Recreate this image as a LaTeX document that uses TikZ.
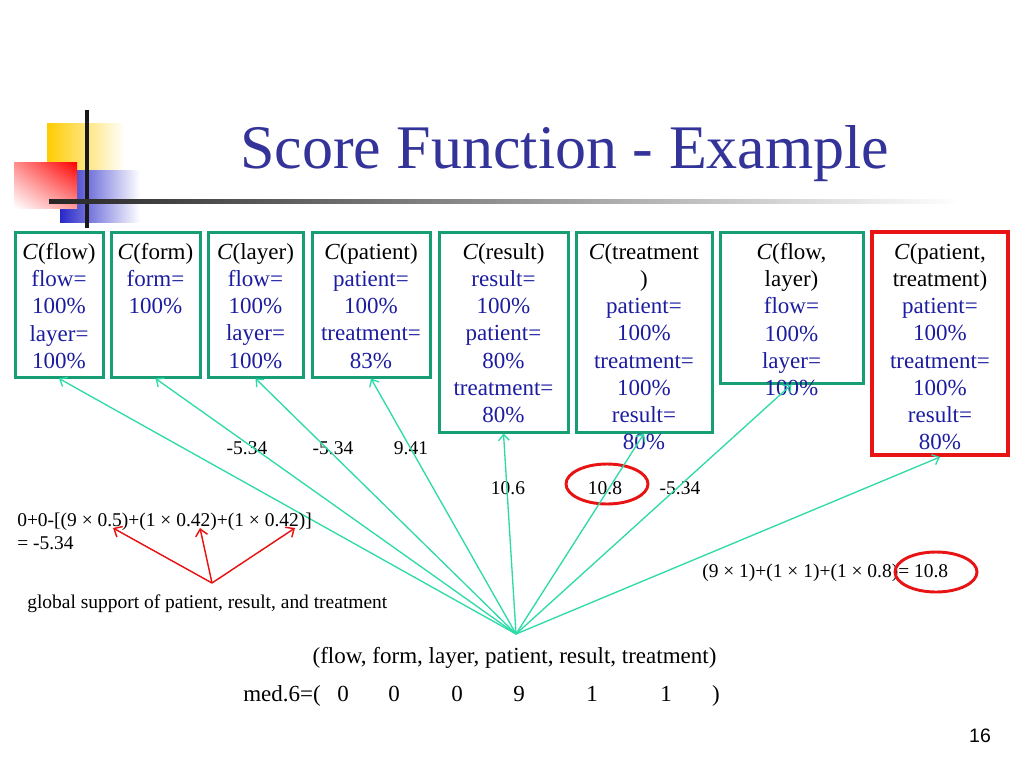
\documentclass[tikz,border=0pt]{standalone}
\usepackage{fontspec}
\setmainfont{Liberation Serif}
\newfontfamily\pagefont{Liberation Sans}
\usepackage{tikz}
\usetikzlibrary{arrows.meta,fit,shadings}

\definecolor{titleblue}{RGB}{51,51,153}
\definecolor{valblue}{RGB}{28,28,160}
\definecolor{boxgreen}{RGB}{24,158,116}
\definecolor{linkgreen}{RGB}{46,218,168}
\definecolor{markred}{RGB}{232,20,20}
\definecolor{logoyellow}{RGB}{255,204,0}
\definecolor{logoblue}{RGB}{40,40,200}

\newcommand{\boxhead}[1]{\textcolor{black}{\textit{C}(#1)}}

\tikzset{
  cbox/.style={draw=boxgreen, line width=2.25pt, inner sep=0pt},
  pickbox/.style={draw=markred, line width=3pt, inner sep=0pt},
  boxtxt/.style={anchor=north, inner sep=0pt, align=center, text=valblue,
    font=\fontsize{17.25}{20.4}\selectfont},
  lbl/.style={anchor=base, inner sep=0pt, font=\fontsize{14.6}{17.25}\selectfont},
  rowtxt/.style={anchor=base, inner sep=0pt, font=\fontsize{17.25}{20.4}\selectfont},
  link/.style={draw=linkgreen, line width=1pt, -{Straight Barb[length=4.5pt,width=8pt]}},
  hint/.style={draw=markred, line width=1.1pt, -{Straight Barb[length=5pt,width=9pt]}},
  ring/.style={draw=markred, line width=2.2pt},
}

\begin{document}
\begin{tikzpicture}[x=0.75pt,y=0.75pt,yscale=-1,xscale=1]
\useasboundingbox (0,0) rectangle (1024,768);

% logo
\shade[left color=logoyellow, middle color=logoyellow, right color=white] (47,123) rectangle (125,170);
\shade[left color=logoblue, middle color=logoblue, right color=white] (60,170) rectangle (140,222);
\shade[upper right=red, upper left=red!45, lower right=red!40, lower left=white] (14,162) rectangle (77,208);
\fill[black!90] (85,110) rectangle (89,228);
\shade[left color=black!85, middle color=black!30, right color=white] (49,199) rectangle (960,203);

% title
\node[anchor=base west, inner sep=0pt, text=titleblue, font=\fontsize{46.5}{50}\selectfont] (title) at (240,168) {Score Function - Example};

% candidate boxes
\node[cbox, fit={(15,232) (103,377)}] (b1) {};
\node[cbox, fit={(111,232) (200,377)}] (b2) {};
\node[cbox, fit={(208,232) (303,377)}] (b3) {};
\node[cbox, fit={(312,232) (430,377)}] (b4) {};
\node[cbox, fit={(439,232) (568,432)}] (b5) {};
\node[cbox, fit={(576,232) (712,432)}] (b6) {};
\node[cbox, fit={(720,232) (863,383)}] (b7) {};
\node[pickbox, fit={(872,232) (1008,455)}] (b8) {};

\node[boxtxt] (t1) at (59,243) {\boxhead{flow}\\ flow=\\ 100\%\\ layer=\\ 100\%};
\node[boxtxt] (t2) at (155.5,243) {\boxhead{form}\\ form=\\ 100\%};
\node[boxtxt] (t3) at (255.5,243) {\boxhead{layer}\\ flow=\\ 100\%\\ layer=\\ 100\%};
\node[boxtxt] (t4) at (371,243) {\boxhead{patient}\\ patient=\\ 100\%\\ treatment=\\ 83\%};
\node[boxtxt] (t5) at (503.5,243) {\boxhead{result}\\ result=\\ 100\%\\ patient=\\ 80\%\\ treatment=\\ 80\%};
\node[boxtxt] (t6) at (644,243) {\textcolor{black}{\textit{C}(treatment}\\ \textcolor{black}{)}\\ patient=\\ 100\%\\ treatment=\\ 100\%\\ result=\\ 80\%};
\node[boxtxt] (t7) at (791.5,243) {\textcolor{black}{\textit{C}(flow,}\\ \textcolor{black}{layer)}\\ flow=\\ 100\%\\ layer=\\ 100\%};
\node[boxtxt] (t8) at (940,243) {\textcolor{black}{\textit{C}(patient,}\\ \textcolor{black}{treatment)}\\ patient=\\ 100\%\\ treatment=\\ 100\%\\ result=\\ 80\%};

% scores
\node[lbl] (s1) at (247,454) {-5.34};
\node[lbl] (s2) at (333,454) {-5.34};
\node[lbl] (s3) at (411,454) {9.41};
\node[lbl] (s4) at (508,494) {10.6};
\node[lbl] (s5) at (605,494) {10.8};
\node[lbl] (s6) at (680,494) {-5.34};
\draw[ring] (607,484) ellipse [x radius=41, y radius=20];

% links from the record
\coordinate (src) at (516,634);
\foreach \b in {b1,b2,b3,b4,b5,b6,b7,b8}
  \draw[link] (src) -- (\b.south);

% worked examples
\node[anchor=base west, inner sep=0pt, align=left, font=\fontsize{14.6}{17.25}\selectfont] (calc) at (17,549)
  {0+0-[(9 × 0.5)+(1 × 0.42)+(1 × 0.42)]\\ = -5.34};
\node[lbl, anchor=base west] (note) at (27,608) {global support of patient, result, and treatment};
\coordinate (gs) at (212,583);
\coordinate (r1) at (113,528);
\coordinate (r2) at (200,528);
\coordinate (r3) at (295,528);
\foreach \r in {r1,r2,r3}
  \draw[hint] (gs) -- (\r);

\node[lbl, anchor=base west] (best) at (702,577) {(9 × 1)+(1 × 1)+(1 × 0.8)= 10.8};
\draw[ring] (936,572) ellipse [x radius=41, y radius=20];

% record
\node[rowtxt] (attrs) at (514.5,663) {(flow, form, layer, patient, result, treatment)};
\node[rowtxt, anchor=base west] (med) at (243,701) {med.6=(};
\foreach \x/\v [count=\i] in {343/0,394/0,457/0,519/9,592/1,666/1,716/)}
  \node[rowtxt] (v\i) at (\x,701) {\v};

% page number
\node[anchor=base, inner sep=0pt, font=\pagefont\fontsize{14.6}{17}\selectfont] (page) at (980,742) {16};
\end{tikzpicture}
\end{document}
